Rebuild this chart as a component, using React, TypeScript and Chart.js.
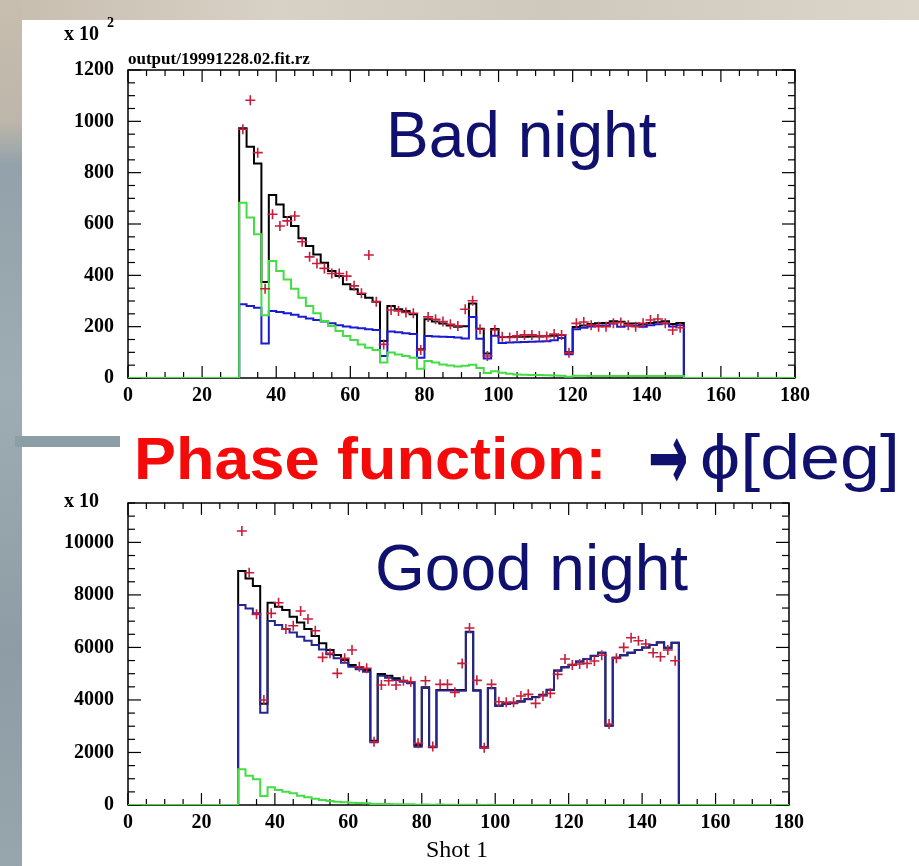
import React, { useEffect, useRef } from 'react';
import { Chart, registerables } from 'chart.js';

Chart.register(...registerables);

// ---------- data ----------
const binEdges = [30, 32, 34, 36, 38, 40, 42, 44, 46, 48, 50, 52, 54, 56, 58, 60, 62, 64, 66, 68, 70, 72, 74, 76, 78, 80, 82, 84, 86, 88, 90, 92, 94, 96, 98, 100, 102, 104, 106, 108, 110, 112, 114, 116, 118, 120, 122, 124, 126, 128, 130, 132, 134, 136, 138, 140, 142, 144, 146, 148];
const binCenters = [31, 33, 35, 37, 39, 41, 43, 45, 47, 49, 51, 53, 55, 57, 59, 61, 63, 65, 67, 69, 71, 73, 75, 77, 79, 81, 83, 85, 87, 89, 91, 93, 95, 97, 99, 101, 103, 105, 107, 109, 111, 113, 115, 117, 119, 121, 123, 125, 127, 129, 131, 133, 135, 137, 139, 141, 143, 145, 147, 149];
const histEnd = 150;
const xTickLabels = [0, 20, 40, 60, 80, 100, 120, 140, 160, 180];
const topYTickLabels = [0, 200, 400, 600, 800, 1000, 1200];
const botYTickLabels = [0, 2000, 4000, 6000, 8000, 10000];

// Bad night (units of 10^2)
const topBlack = [973, 901, 836, 374, 713, 676, 627, 592, 544, 514, 481, 449, 417, 397, 365, 346, 327, 313, 297, 144, 281, 268, 261, 248, 112, 229, 220, 212, 205, 200, 202, 290, 192, 95, 191, 160, 160, 161, 161, 162, 162, 163, 165, 168, 100, 199, 205, 210, 213, 214, 221, 219, 212, 212, 208, 214, 217, 221, 210, 214];
const topBlue = [287, 281, 274, 134, 261, 257, 252, 246, 239, 232, 226, 220, 213, 206, 201, 197, 194, 190, 187, 86, 181, 178, 174, 171, 79, 164, 162, 161, 160, 158, 154, 238, 153, 76, 165, 136, 138, 139, 140, 141, 142, 143, 147, 156, 93, 190, 196, 201, 204, 205, 212, 200, 204, 203, 200, 206, 209, 212, 201, 206];
const topGreen = [683, 625, 560, 244, 456, 417, 384, 348, 313, 281, 252, 222, 203, 183, 164, 148, 131, 118, 109, 60, 99, 92, 86, 79, 36, 66, 60, 53, 49, 45, 48, 52, 39, 19, 26, 20, 17, 14, 13, 12, 12, 11, 10, 9, 5, 9, 9, 8, 8, 8, 8, 8, 8, 8, 8, 8, 8, 8, 8, 8];
const topPoints = [969, 1082, 878, 348, 638, 592, 612, 631, 531, 472, 446, 427, 407, 407, 397, 359, 330, 479, 297, 131, 265, 261, 255, 252, 109, 238, 229, 220, 209, 203, 268, 301, 190, 86, 187, 161, 158, 164, 168, 168, 164, 162, 171, 168, 98, 213, 218, 206, 200, 200, 213, 216, 206, 200, 213, 226, 230, 213, 187, 196];

// Good night (units of 10)
const botBlack = [8908, 8629, 8337, 3858, 7703, 7551, 7424, 7170, 6954, 6700, 6434, 6155, 5901, 5711, 5520, 5330, 5241, 5139, 2449, 4987, 4924, 4822, 4733, 4657, 2284, 4480, 2221, 4378, 4378, 4378, 4378, 6600, 4370, 2200, 4460, 3790, 3860, 3890, 3950, 4040, 4110, 4200, 4390, 5120, 5250, 5340, 5460, 5560, 5680, 5800, 3030, 5610, 5700, 5800, 5900, 6000, 6090, 6190, 5990, 6180];
const botBlue = [7614, 7487, 7297, 3515, 7005, 6853, 6700, 6573, 6408, 6256, 6091, 5926, 5736, 5584, 5419, 5266, 5165, 5076, 2386, 4924, 4848, 4759, 4695, 4632, 2221, 4455, 2200, 4360, 4360, 4360, 4353, 6580, 4350, 2183, 4442, 3769, 3845, 3870, 3934, 4023, 4099, 4188, 4378, 5114, 5241, 5330, 5457, 5558, 5672, 5799, 3020, 5609, 5698, 5799, 5901, 6002, 6091, 6193, 5990, 6180];
const botGreen = [1358, 1117, 977, 343, 673, 571, 508, 444, 355, 292, 241, 190, 152, 127, 102, 89, 76, 63, 38, 40, 36, 32, 28, 24, 10, 20, 8, 15, 12, 10, 8, 8, 6, 3, 5, 4, 4, 3, 3, 3, 2, 2, 2, 2, 2, 2, 2, 2, 2, 2, 1, 1, 1, 1, 1, 1, 1, 1, 1, 1];
const botPoints = [10431, 8845, 7259, 3997, 7297, 7703, 6700, 6827, 7386, 7081, 6637, 5622, 5774, 5013, 5584, 5901, 5266, 5203, 2411, 4568, 4733, 4568, 4733, 4695, 2348, 4733, 2230, 4594, 4594, 4289, 5393, 6740, 4746, 2183, 4594, 3934, 3909, 3909, 4150, 4213, 3870, 4150, 4251, 4974, 5558, 5330, 5368, 5393, 5482, 5700, 3084, 5584, 6002, 6370, 6256, 6129, 5799, 5647, 5901, 5495];

// ---------- styles ----------
const SERIF = '"Liberation Serif", "Times New Roman", serif';
const SANS = '"Liberation Sans", Arial, sans-serif';
const RED = '#c81e3c';
const GREEN = '#44dd44';
const NAVY = '#10106e';

const pawFrame = {
  id: 'pawFrame',
  beforeDatasetsDraw(chart: any, _args: any, opts: any) {
    const { ctx, chartArea: a, scales } = chart;
    const xs = scales.x;
    const ys = scales.y;
    ctx.save();
    ctx.strokeStyle = '#000';
    ctx.lineWidth = 1.5;
    ctx.strokeRect(a.left, a.top, a.right - a.left, a.bottom - a.top);
    ctx.lineWidth = 1.2;
    const seg = (x1: number, y1: number, x2: number, y2: number) => {
      ctx.beginPath();
      ctx.moveTo(x1, y1);
      ctx.lineTo(x2, y2);
      ctx.stroke();
    };
    for (let v = xs.min; v <= xs.max + 1e-6; v += opts.xMinor) {
      const p = xs.getPixelForValue(v);
      const major = Math.abs(v % opts.xMajor) < 1e-6;
      const len = major ? 12 : 6;
      seg(p, a.bottom, p, a.bottom - len);
      seg(p, a.top, p, a.top + len);
    }
    for (let v = ys.min; v <= ys.max + 1e-6; v += opts.yMinor) {
      const p = ys.getPixelForValue(v);
      const major = Math.abs(v % opts.yMajor) < 1e-6;
      const len = major ? 13 : 7;
      seg(a.left, p, a.left + len, p);
      seg(a.right, p, a.right - len, p);
    }
    ctx.restore();
  },
};

function stepData(values: number[]) {
  return [
    { x: xTickLabels[0], y: 0 },
    ...binEdges.map((e, i) => ({ x: e, y: values[i] })),
    { x: histEnd, y: 0 },
    { x: xTickLabels[xTickLabels.length - 1], y: 0 },
  ];
}

type Spec = {
  top: number;
  height: number;
  pad: { left: number; top: number; right: number; bottom: number };
  xAxisH: number;
  yAxisW: number;
  yMax: number;
  yTicks: number[];
  yMinor: number;
  black: number[];
  blue: number[];
  green: number[];
  points: number[];
  blueColor: string;
};

function makeConfig(s: Spec): any {
  const tickFont = { family: SERIF, size: 20, weight: 'bold' as const };
  return {
    type: 'line',
    data: {
      datasets: [
        {
          type: 'scatter',
          data: s.points.map((v, i) => ({ x: binCenters[i], y: v })),
          pointStyle: 'cross',
          pointRadius: 5,
          pointBorderWidth: 1.6,
          borderWidth: 1.6,
          borderColor: RED,
          backgroundColor: RED,
          pointBorderColor: RED,
          showLine: false,
          order: 0,
        },
        { data: stepData(s.green), borderColor: GREEN, borderWidth: 2, stepped: 'before', pointRadius: 0, fill: false, order: 1 },
        { data: stepData(s.blue), borderColor: s.blueColor, borderWidth: 2, stepped: 'before', pointRadius: 0, fill: false, order: 2 },
        { data: stepData(s.black), borderColor: '#000', borderWidth: 2, stepped: 'before', pointRadius: 0, fill: false, order: 3 },
      ],
    },
    options: {
      animation: false,
      responsive: false,
      devicePixelRatio: 1,
      events: [],
      layout: { padding: s.pad },
      plugins: {
        legend: { display: false },
        tooltip: { enabled: false },
        pawFrame: { xMinor: 5, xMajor: 20, yMinor: s.yMinor, yMajor: s.yTicks[1] - s.yTicks[0] },
      },
      scales: {
        x: {
          type: 'linear',
          min: xTickLabels[0],
          max: xTickLabels[xTickLabels.length - 1],
          grid: { display: false, drawTicks: false },
          border: { display: false },
          afterBuildTicks: (scale: any) => {
            scale.ticks = xTickLabels.map((v) => ({ value: v }));
          },
          ticks: { padding: 6, font: tickFont, color: '#000', maxRotation: 0, autoSkip: false, callback: (v: any) => String(v) },
          afterFit: (scale: any) => {
            scale.height = s.xAxisH;
          },
        },
        y: {
          type: 'linear',
          min: 0,
          max: s.yMax,
          grid: { display: false, drawTicks: false },
          border: { display: false },
          afterBuildTicks: (scale: any) => {
            scale.ticks = s.yTicks.map((v) => ({ value: v }));
          },
          ticks: { padding: 14, font: tickFont, color: '#000', autoSkip: false, callback: (v: any) => String(v) },
          afterFit: (scale: any) => {
            scale.width = s.yAxisW;
          },
        },
      },
    },
    plugins: [pawFrame],
  };
}

function PawChart({ spec }: { spec: Spec }) {
  const ref = useRef<HTMLCanvasElement | null>(null);
  useEffect(() => {
    if (!ref.current) return;
    const chart = new Chart(ref.current, makeConfig(spec));
    return () => chart.destroy();
  }, []);
  return (
    <canvas
      ref={ref}
      width={919}
      height={spec.height}
      style={{ position: 'absolute', left: 0, top: spec.top, width: 919, height: spec.height }}
    />
  );
}

const topSpec: Spec = {
  top: 0,
  height: 430,
  pad: { left: 0, top: 70, right: 124, bottom: 0 },
  xAxisH: 52,
  yAxisW: 128,
  yMax: 1200,
  yTicks: topYTickLabels,
  yMinor: 50,
  black: topBlack,
  blue: topBlue,
  green: topGreen,
  points: topPoints,
  blueColor: '#1a1ad0',
};

const botSpec: Spec = {
  top: 430,
  height: 436,
  pad: { left: 0, top: 73, right: 130, bottom: 0 },
  xAxisH: 61,
  yAxisW: 128,
  yMax: 11500,
  yTicks: botYTickLabels,
  yMinor: 500,
  black: botBlack,
  blue: botBlue,
  green: botGreen,
  points: botPoints,
  blueColor: '#262690',
};

const abs = (left: number, top: number, extra: React.CSSProperties): React.CSSProperties => ({
  position: 'absolute',
  left,
  top,
  lineHeight: 1,
  whiteSpace: 'nowrap',
  margin: 0,
  ...extra,
});

export default function App() {
  return (
    <div style={{ position: 'absolute', left: 0, top: 0, width: 919, height: 866, background: '#fff', overflow: 'hidden' }}>
      <div style={{ position: 'absolute', left: 0, top: 0, width: 919, height: 20, background: 'linear-gradient(90deg, #c6bdae 0%, #d8d1c5 30%, #cfc8bc 60%, #dcd5ca 100%)' }} />
      <div style={{ position: 'absolute', left: 0, top: 0, width: 22, height: 866, background: 'linear-gradient(180deg, #c7beaf 0%, #bdb6aa 14%, #93a2aa 19%, #9eacb3 45%, #8e9da5 75%, #97a6ad 100%)' }} />
      <div style={{ position: 'absolute', left: 15, top: 436, width: 105, height: 11, background: '#8c9ea6' }} />

      <PawChart spec={topSpec} />
      <PawChart spec={botSpec} />

      <div style={abs(64, 23, { fontFamily: SERIF, fontWeight: 'bold', fontSize: 20, color: '#000' })}>x 10</div>
      <div style={abs(107, 16, { fontFamily: SERIF, fontWeight: 'bold', fontSize: 14, color: '#000' })}>2</div>
      <div style={abs(128, 50, { fontFamily: SERIF, fontWeight: 'bold', fontSize: 17, color: '#000' })}>output/19991228.02.fit.rz</div>
      <div style={abs(64, 490, { fontFamily: SERIF, fontWeight: 'bold', fontSize: 20, color: '#000' })}>x 10</div>

      <div style={abs(386, 103, { fontFamily: SANS, fontSize: 64, color: NAVY })}>Bad night</div>
      <div style={abs(375, 536, { fontFamily: SANS, fontSize: 64, color: NAVY })}>Good night</div>
      <div style={abs(134, 429, { fontFamily: SANS, fontWeight: 'bold', fontSize: 60, color: '#f50a0a', transform: 'scaleX(1.05)', transformOrigin: '0 0' })}>Phase function:</div>
      <div style={abs(648, 425, { fontFamily: '"DejaVu Sans", sans-serif', fontWeight: 'bold', fontSize: 64, color: NAVY, transform: 'scale(0.75, 1.5)', transformOrigin: '0 33px' })}>→</div>
      <div style={abs(700, 426, { fontFamily: SANS, fontSize: 63, color: NAVY, transform: 'scaleX(1.14)', transformOrigin: '0 0' })}>ϕ[deg]</div>
      <div style={abs(426, 837, { fontFamily: SERIF, fontSize: 24, color: '#000' })}>Shot 1</div>
    </div>
  );
}
